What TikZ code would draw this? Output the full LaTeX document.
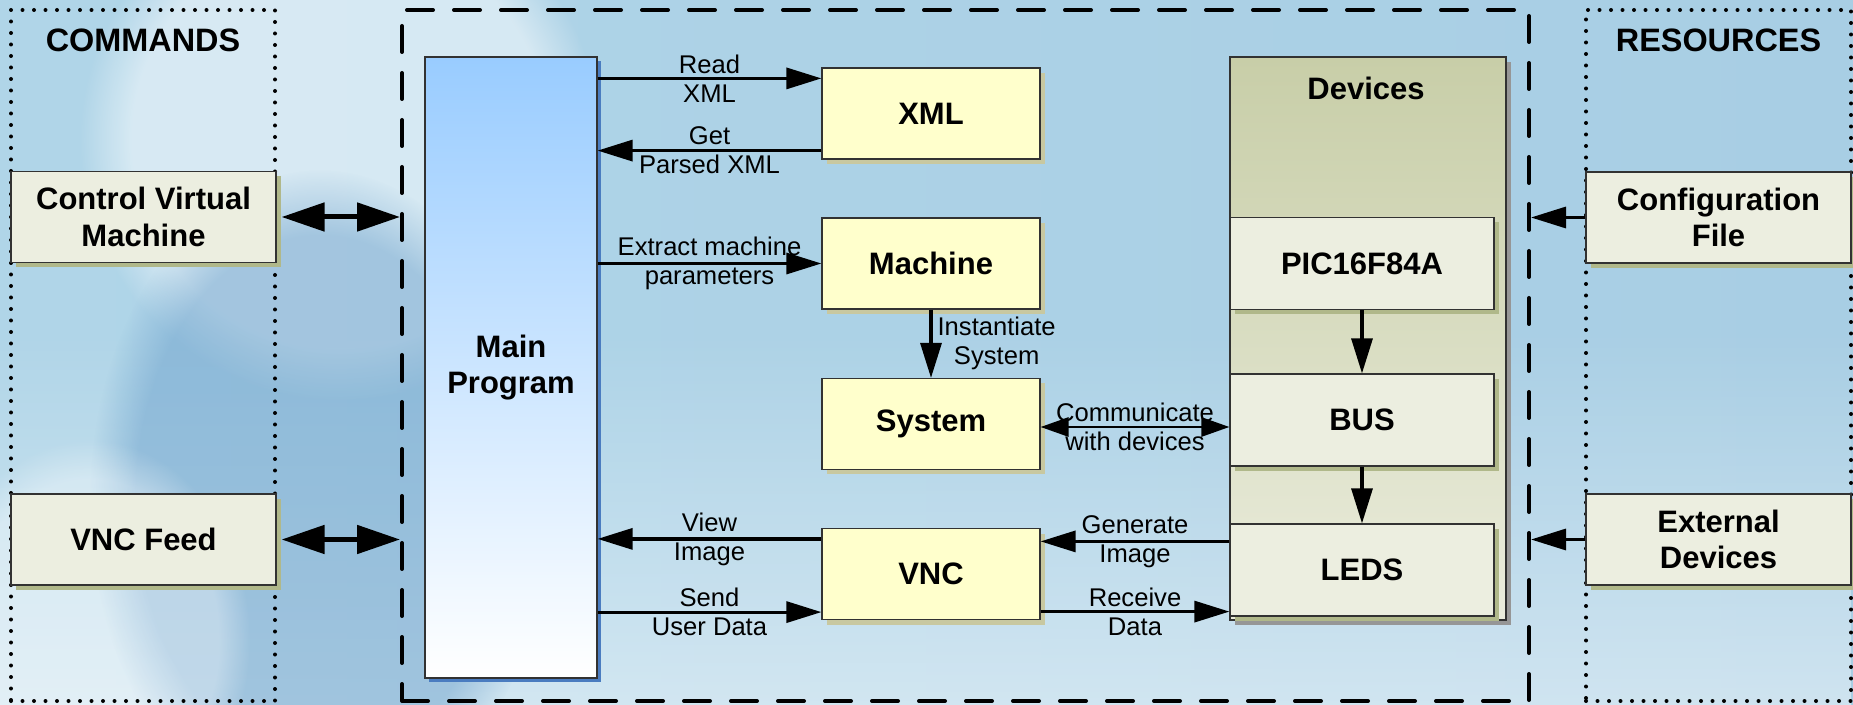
\documentclass[tikz,border=0pt]{standalone}
\usepackage{fontspec}
\setmainfont{Liberation Sans}
\usetikzlibrary{arrows.meta,positioning,calc,shadows,fadings}

\definecolor{bgleft}{RGB}{176,213,232}
\definecolor{bgmid}{RGB}{210,232,245}
\definecolor{bgright}{RGB}{168,206,228}
\definecolor{bgdark}{RGB}{100,155,200}
\definecolor{cream}{RGB}{255,255,204}
\definecolor{creamshadow}{RGB}{200,200,160}
\definecolor{pale}{RGB}{236,238,224}
\definecolor{paleshadow}{RGB}{176,184,138}
\definecolor{maintop}{RGB}{153,204,255}
\definecolor{mainshadow}{RGB}{74,124,192}
\definecolor{devtop}{RGB}{200,206,168}
\definecolor{devbottom}{RGB}{234,236,220}
\definecolor{devshadow}{RGB}{150,150,150}
\definecolor{boxline}{RGB}{50,50,50}

\newcommand{\diagboxfont}{\fontsize{15.5pt}{18.3pt}\selectfont\bfseries}
\newcommand{\diagtitlefont}{\fontsize{16.2pt}{18.3pt}\selectfont\bfseries}
\newcommand{\diaglabelfont}{\fontsize{12.8pt}{14.5pt}\selectfont}

\tikzset{
  basebox/.style={draw=boxline, line width=0.6pt, inner sep=0pt, align=center, font=\diagboxfont},
  sidebox/.style={basebox, fill=pale, minimum width=132.5pt, minimum height=45.5pt,
    general shadow={fill=paleshadow, shadow xshift=2.5pt, shadow yshift=-2.5pt}},
  unitbox/.style={basebox, fill=cream, minimum width=109pt, minimum height=45.5pt,
    general shadow={fill=creamshadow, shadow xshift=2.5pt, shadow yshift=-2.5pt}},
  devbox/.style={basebox, fill=pale, minimum width=132pt, minimum height=46pt,
    general shadow={fill=paleshadow, shadow xshift=2.5pt, shadow yshift=-2.5pt}},
  area/.style={draw, line width=2pt, dash pattern=on 0pt off 5.75pt, line cap=round,
    inner sep=0pt, minimum width=132.5pt, minimum height=345.5pt},
  areatitle/.style={font=\diagtitlefont, inner sep=0pt},
  lbl/.style={font=\diaglabelfont, align=center, inner sep=0pt},
  arr/.style={line width=1.6pt, -{Triangle[length=17.5pt,width=10.5pt]}},
  dblarr/.style={line width=1.4pt, {Triangle[length=14pt,width=9.5pt]}-{Triangle[length=14pt,width=9.5pt]}},
  bigarr/.style={line width=2.5pt, {Triangle[length=21.5pt,width=14pt]}-{Triangle[length=21.5pt,width=14pt]}},
  glow/.style={path fading=circle with fuzzy edge 20 percent}
}

\begin{document}
\begin{tikzpicture}[x=0.5pt,y=-0.5pt]
    \useasboundingbox (0,0) rectangle (1853,705);

    % background
    \shade[left color=bgleft, middle color=bgmid, right color=bgright] (0,0) rectangle (1853,705);
    \fill[white, opacity=0.45, path fading=north] (0,330) rectangle (1853,705);
    \fill[white, opacity=0.5, glow] (340,140) ellipse [x radius=260, y radius=260];
    \fill[bgdark, opacity=0.45, glow] (320,500) ellipse [x radius=230, y radius=330];
    \fill[white, opacity=0.35, glow] (90,640) ellipse [x radius=160, y radius=200];

    % areas
    \node[area, minimum width=132pt] (cmdarea) at (143,355.5) {};
    \node[area] (resarea) at (1718.5,355.5) {};
    \node[draw, line width=2pt, dash pattern=on 13pt off 10.5pt, line cap=round, inner sep=0pt,
      minimum width=563.5pt, minimum height=345.5pt] (core) at (965.5,355.5) {};

    \node[areatitle] (cmdtitle) at (143,40) {COMMANDS};
    \node[areatitle] (restitle) at (1718.5,40) {RESOURCES};

    % commands and resources
    \node[sidebox] (cvm) at (143.5,217) {Control Virtual\\Machine};
    \node[sidebox] (vncfeed) at (143.5,539.5) {VNC Feed};
    \node[sidebox] (config) at (1718.5,217.5) {Configuration\\File};
    \node[sidebox] (extdev) at (1718.5,539.5) {External\\Devices};

    % main program
    \node[basebox, minimum width=86pt, minimum height=310.5pt, top color=maintop, bottom color=white,
      general shadow={fill=mainshadow, shadow xshift=2pt, shadow yshift=-2pt}] (main) at (511,367.5) {Main\\Program};

    \node[unitbox] (xml) at (931,113.5) {XML};
    \node[unitbox] (mach) at (931,263.5) {Machine};
    \node[unitbox] (sys) at (931,424) {System};
    \node[unitbox] (vnc) at (931,574) {VNC};

    % devices
    \node[draw=boxline, line width=0.6pt, minimum width=138pt, minimum height=281.5pt, inner sep=0pt,
      top color=devtop, bottom color=devbottom,
      general shadow={fill=devshadow, shadow xshift=2.5pt, shadow yshift=-2.5pt}] (devices) at (1368,338.5) {};
    \node[areatitle, font=\diagboxfont] (devtitle) at (1366,88) {Devices};
    \node[devbox] (pic) at (1362,263.5) {PIC16F84A};
    \node[devbox] (bus) at (1362,420) {BUS};
    \node[devbox] (leds) at (1362,570) {LEDS};

    % outside links
    \draw[bigarr] ([xshift=2.5pt]cvm.east) -- (core.west |- cvm.east);
    \draw[bigarr] ([xshift=2.5pt]vncfeed.east) -- (core.west |- vncfeed.east);
    \draw[arr] (config.west) -- (core.east |- config.west);
    \draw[arr] (extdev.west) -- (core.east |- extdev.west);

    % inner links
    \coordinate (readend) at ([yshift=-5.5pt]xml.north west);
    \coordinate (getstart) at ([yshift=4.5pt]xml.south west);
    \coordinate (viewstart) at ([yshift=-5.5pt]vnc.north west);
    \coordinate (sendend) at ([yshift=4pt]vnc.south west);
    \coordinate (commstart) at ([yshift=-1.5pt]sys.east);
    \coordinate (genstart) at ([yshift=-9pt]leds.north west);
    \coordinate (recvend) at ([yshift=2.5pt]leds.south west);

    \draw[arr] (main.east |- readend) -- (readend) node[lbl, midway] {Read\\XML};
    \draw[arr] (getstart) -- (main.east |- getstart) node[lbl, midway] {Get\\Parsed XML};
    \draw[arr] (main.east |- mach.west) -- (mach.west) node[lbl, midway] {Extract machine\\parameters};
    \draw[arr] (mach.south) -- (sys.north) node[lbl, midway, right, inner sep=2.5pt] {Instantiate\\System};
    \draw[dblarr] (commstart) -- (commstart -| bus.west) node[lbl, midway] {Communicate\\with devices};
    \draw[arr] (viewstart) -- (main.east |- viewstart) node[lbl, midway] {View\\Image};
    \draw[arr] (main.east |- sendend) -- (sendend) node[lbl, midway] {Send\\User Data};
    \draw[arr] (genstart) -- (vnc.east |- genstart) node[lbl, midway] {Generate\\Image};
    \draw[arr] (vnc.east |- recvend) -- (recvend) node[lbl, midway] {Receive\\Data};

    \draw[arr] (pic.south) -- (bus.north);
    \draw[arr] (bus.south) -- (leds.north);
\end{tikzpicture}
\end{document}
